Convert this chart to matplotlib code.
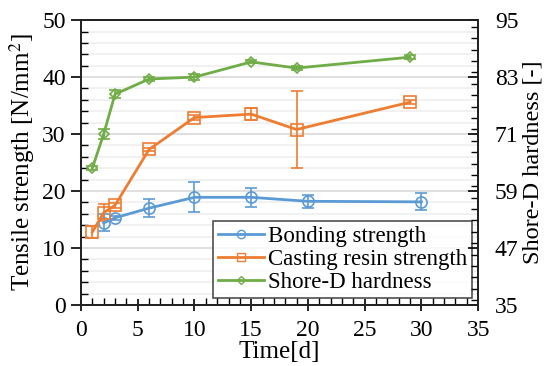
import matplotlib
matplotlib.use("Agg")
import matplotlib.pyplot as plt
from matplotlib.lines import Line2D
from matplotlib.ticker import MultipleLocator, FixedLocator

plt.rcParams["font.family"] = ["Liberation Serif", "DejaVu Serif"]
plt.rcParams["mathtext.fontset"] = "stix"

# Bonding strength [N/mm2]
bond_days = [2, 3, 6, 10, 15, 20, 30]
bond_val = [14.4, 15.3, 17.0, 18.9, 18.9, 18.2, 18.1]
bond_err = [1.5, 0.3, 1.6, 2.6, 1.7, 1.1, 1.5]

# Casting resin strength [N/mm2]
resin_days = [1, 2, 3, 6, 10, 15, 19, 29]
resin_val = [12.8, 16.2, 17.5, 27.3, 32.9, 33.5, 30.8, 35.6]
resin_err = [1.0, 1.5, 0.4, 0.3, 0.4, 1.1, 6.7, 0.4]

# Shore-D hardness [-]
shore_days = [1, 2, 3, 6, 10, 15, 19, 29]
shore_val = [63.8, 71.0, 79.4, 82.6, 83.0, 86.2, 84.9, 87.2]
shore_err = [0.4, 1.0, 0.8, 0.5, 0.6, 0.3, 0.4, 0.4]

shore_ticks = [35, 47, 59, 71, 83, 95]

BLUE = "#5B9BD5"
ORANGE = "#ED7D31"
GREEN = "#70AD47"

fig = plt.figure(figsize=(5.49, 3.66), dpi=100)
ax = fig.add_axes([0.1475, 0.1667, 0.7235, 0.7783])
ax2 = ax.twinx()

common = dict(linewidth=2, markerfacecolor="none", capsize=4, elinewidth=1.2, capthick=1.2)
ax.errorbar(bond_days, bond_val, yerr=bond_err, color=BLUE, marker="o",
            markersize=8, markeredgewidth=1.2, **common)
ax.errorbar(resin_days, resin_val, yerr=resin_err, color=ORANGE, marker="s",
            markersize=8, markeredgewidth=1.2, **common)
ax2.errorbar(shore_days, shore_val, yerr=shore_err, color=GREEN, marker="D",
             markersize=5, markeredgewidth=1.2, **common)

ax.set_xlim(0, 35)
ax.set_ylim(0, 50)
ax2.set_ylim(35, 95)

ax.xaxis.set_major_locator(MultipleLocator(5))
ax.xaxis.set_minor_locator(MultipleLocator(1))
ax.yaxis.set_major_locator(MultipleLocator(10))
ax.yaxis.set_minor_locator(MultipleLocator(2))
ax2.yaxis.set_major_locator(FixedLocator(shore_ticks))
ax2.yaxis.set_minor_locator(MultipleLocator(2.4))

ax.grid(True, which="minor", axis="y", color="#efefef", linewidth=1.2)
ax.grid(True, which="major", axis="y", color="#d9d9d9", linewidth=1.2)
ax.set_axisbelow(True)

ax.tick_params(axis="x", which="major", direction="inout", length=9, width=1.2,
               labelsize=17, pad=6)
ax.tick_params(axis="x", which="minor", direction="in", length=5, width=1.0)
ax.tick_params(axis="y", which="major", direction="out", length=7, width=1.2,
               labelsize=17, pad=4)
ax.tick_params(axis="y", which="minor", direction="in", length=5, width=1.0)
ax2.tick_params(axis="y", which="major", direction="in", length=7, width=1.2,
                labelsize=17, pad=12)
ax2.tick_params(axis="y", which="minor", direction="in", length=5, width=1.0)

for a in (ax, ax2):
    for s in a.spines.values():
        s.set_linewidth(1.3)
        s.set_color("#222222")

ax.set_xlabel("Time[d]", fontsize=18, labelpad=0)
ax.set_ylabel("Tensile strength [N/mm$^2$]", fontsize=18, labelpad=4)
ax2.set_ylabel("Shore-D hardness [-]", fontsize=17.5, labelpad=3)

handles = [
    Line2D([], [], color=BLUE, linewidth=2, marker="o", markersize=6,
           markerfacecolor="none", markeredgewidth=1.0),
    Line2D([], [], color=ORANGE, linewidth=2, marker="s", markersize=6,
           markerfacecolor="none", markeredgewidth=1.0),
    Line2D([], [], color=GREEN, linewidth=2, marker="D", markersize=4,
           markerfacecolor="none", markeredgewidth=1.0),
]
labels = ["Bonding strength", "Casting resin strength", "Shore-D hardness"]
leg = ax.legend(handles, labels, loc="lower right", bbox_to_anchor=(0.985, 0.025),
                fontsize=16.5, frameon=True, fancybox=False, handlelength=2.0,
                handletextpad=0.2, borderpad=0.2, labelspacing=0.1, borderaxespad=0.0)
leg.get_frame().set_edgecolor("#222222")
leg.get_frame().set_linewidth(1.2)

fig.savefig("out.png", dpi=100)
